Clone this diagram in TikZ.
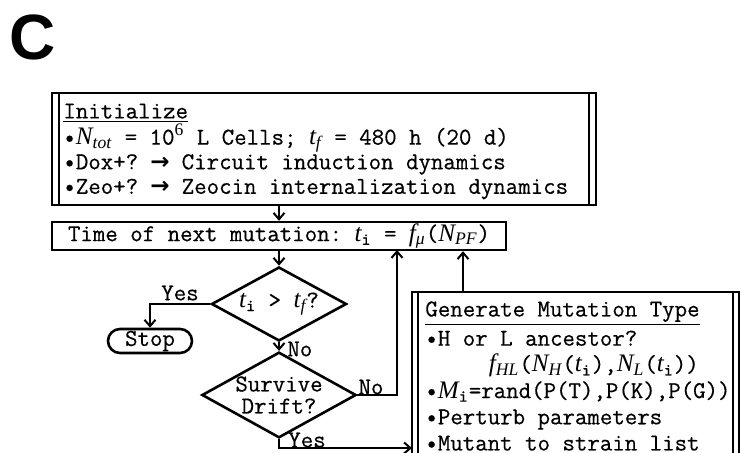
\documentclass[tikz,border=0pt]{standalone}
\usepackage{fontspec}
\setmonofont[FakeBold=0.5]{Latin Modern Mono}
\newfontfamily\tms[Scale=1.04]{Liberation Serif}
\newfontfamily\djv{DejaVu Sans}
\newfontfamily\hel{Liberation Sans}
\usetikzlibrary{shapes.geometric,shapes.misc,arrows.meta,calc}
\newcommand{\mv}[1]{{\tms\itshape #1}}
\newcommand{\mysub}[1]{\textsubscript{#1}}
\newcommand{\rarrow}{\makebox[1.8em]{\djv\bfseries\fontsize{11.5pt}{11.5pt}\selectfont →}}
\begin{document}
\begin{tikzpicture}[x=0.5pt,y=-0.5pt,
  every node/.style={font=\ttfamily\fontsize{12.1pt}{12.3pt}\selectfont},
  frame/.style={draw, line width=1.2pt, rectangle, inner sep=0pt},
  dia/.style={diamond, draw, line width=1.3pt, minimum width=67.5pt, minimum height=37pt, inner sep=0pt, aspect=1.8},
  conn/.style={line width=1.3pt, -{Straight Barb[length=3.2pt,width=5.5pt,line width=1pt]}},
  lbl/.style={inner sep=0pt}
]
\useasboundingbox (0,0) rectangle (742,453);
\clip (0,0) rectangle (742,453);

% panel letter
\node[lbl, font=\hel\bfseries\fontsize{32pt}{32pt}\selectfont] (letter) at (33,37) {C};

% Initialize box
\node[frame, minimum width=272pt, minimum height=56pt] (init) at (324,149) {};
\draw[line width=1.2pt] ([xshift=4pt]init.north west) -- ([xshift=4pt]init.south west);
\draw[line width=1.2pt] ([xshift=-4pt]init.north east) -- ([xshift=-4pt]init.south east);
\node[lbl, anchor=west, align=left] (inittext) at (63,151.5) {%
\underline{Initialize}\\[0.8pt]
•\mv{N}\mysub{\mv{tot}} = 10\textsuperscript{\tms 6} L Cells; \mv{t}\mysub{\mv{f}} = 480 h (20 d)\\
•Dox+?\rarrow Circuit induction dynamics\\
•Zeo+?\rarrow Zeocin internalization dynamics};

% Time box
\node[frame, minimum width=227pt, minimum height=14pt] (time) at (279,236)
  {Time of next mutation: \mv{t}\mysub{i} = \mv{f}\mysub{\mv{μ}}(\mv{N}\mysub{\mv{PF}})};

% decisions
\node[dia] (d1) at (279,304) {\mv{t}\mysub{i} > \mv{t}\mysub{\mv{f}}?};
\node[dia, align=center, font=\ttfamily\fontsize{12.1pt}{11pt}\selectfont] (d2) at (279,395) {Survive\\Drift?};

% stop
\node[rounded rectangle, draw, line width=1.3pt, minimum width=42pt, minimum height=12pt, inner sep=0pt] (stop) at (150,341) {Stop};

% Generate box
\node[frame, minimum width=163.5pt, minimum height=85pt] (gen) at (575.5,377) {};
\draw[line width=1.2pt] ([xshift=3.5pt]gen.north west) -- ([xshift=3.5pt]gen.south west);
\draw[line width=1.2pt] ([xshift=-3.5pt]gen.north east) -- ([xshift=-3.5pt]gen.south east);
\node[lbl, anchor=west, align=left, font=\ttfamily\fontsize{12.1pt}{13.1pt}\selectfont] (gentext) at (425,376) {%
\underline{Generate Mutation Type}\\[1.5pt]
•H or L ancestor?\\
\hspace*{2.625em}\mv{f}\mysub{\mv{HL}}(\mv{N}\mysub{\mv{H}}(\mv{t}\mysub{i}),\mv{N}\mysub{\mv{L}}(\mv{t}\mysub{i}))\\
•\mv{M}\mysub{i}=rand(P(T),P(K),P(G))\\
•Perturb parameters\\
•Mutant to strain list};

% helper coordinates
\coordinate (noin) at (397,250);
\coordinate (genx) at (463,292);
\coordinate (yesin) at (412,448);

% connectors
\draw[conn] (init.south -| time.north) -- (time.north);
\draw[conn] (time.south) -- (d1.north);
\draw[conn] (d1.west) -| (stop.north);
\draw[conn] (d1.south) -- (d2.north);
\draw[conn] (d2.east) -| (noin);
\draw[conn] (d2.south) |- (yesin);
\draw[conn] (genx) -- (genx |- time.south);

% labels
\node[lbl] (lyes1) at (180,293) {Yes};
\node[lbl, anchor=west] (lno1) at (287,349) {No};
\node[lbl] (lno2) at (371,387) {No};
\node[lbl] (lyes2) at (307,440) {Yes};
\end{tikzpicture}
\end{document}
